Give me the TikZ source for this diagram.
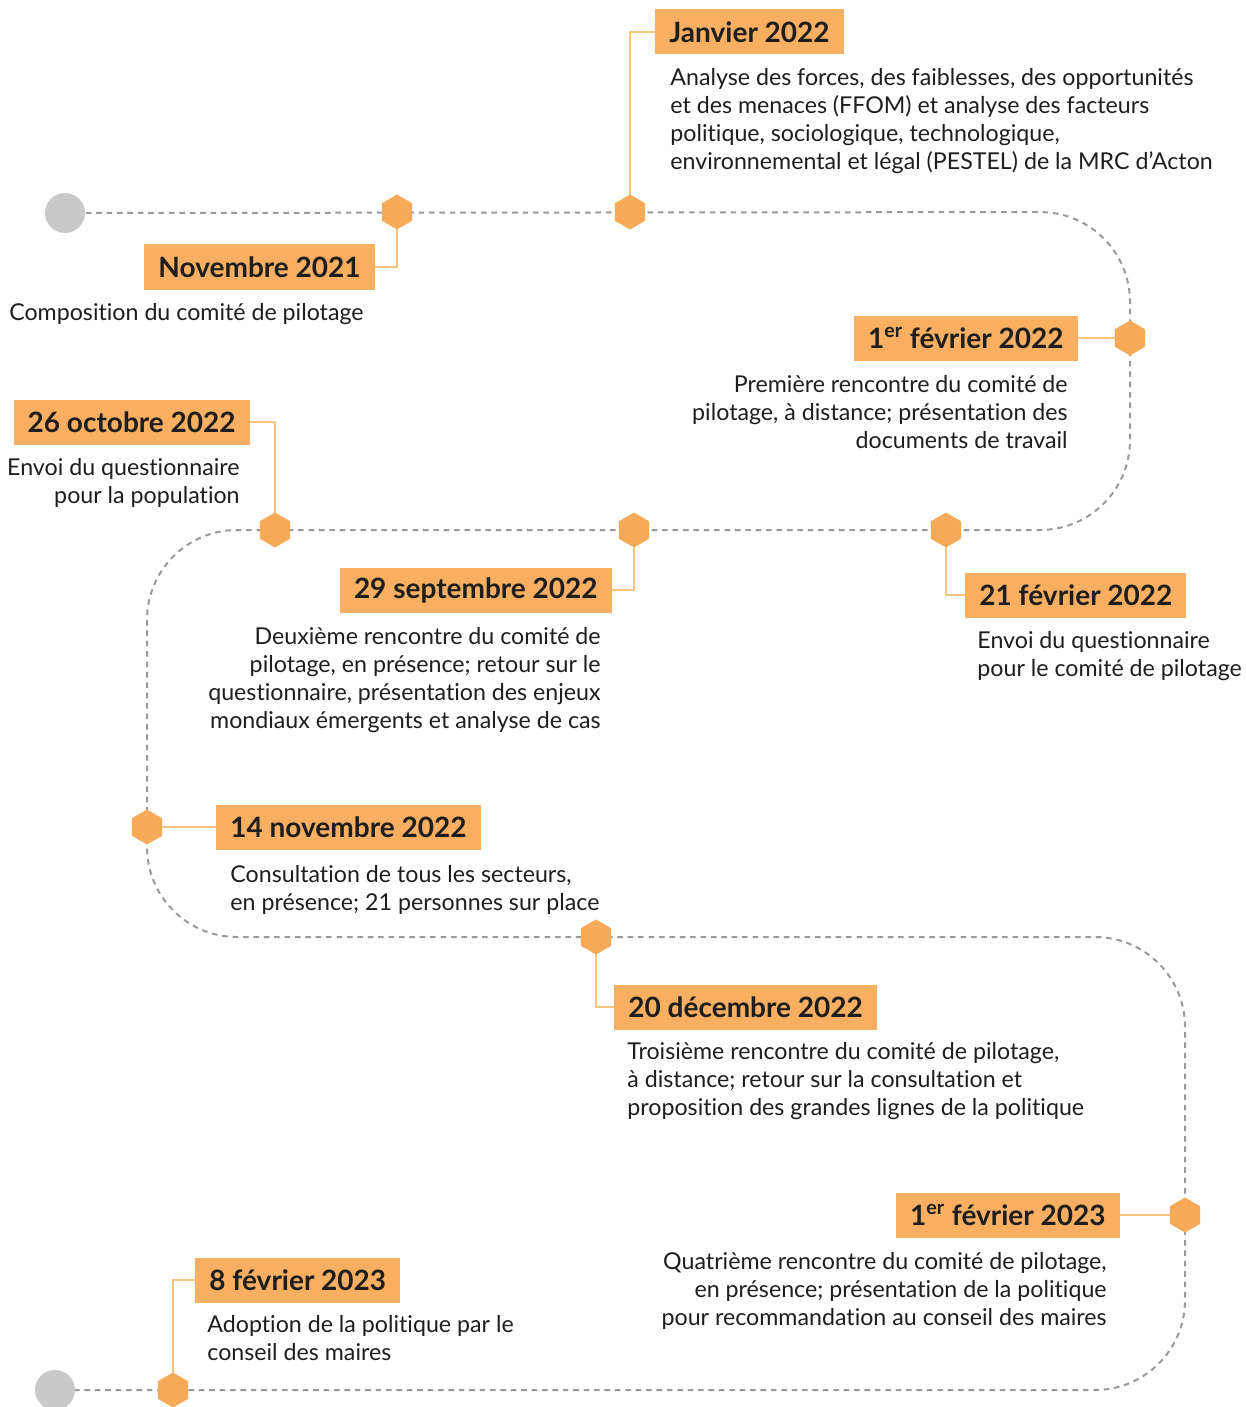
\documentclass[tikz,border=0pt]{standalone}
\usepackage{fontspec}
\setmainfont{Lato}[Ligatures=NoCommon]
\usetikzlibrary{shapes.geometric}
\definecolor{boxor}{HTML}{F9AF62}
\definecolor{hexor}{HTML}{F8AA58}
\definecolor{linkor}{HTML}{F9C47E}
\definecolor{pathgray}{HTML}{9A9A9A}
\definecolor{dotgray}{HTML}{C9C9C9}
\definecolor{ink}{HTML}{1E1E1E}
\begin{document}
\begin{tikzpicture}[x=0.5pt,y=-0.5pt,
  hex/.style={regular polygon, regular polygon sides=6, shape border rotate=30, minimum size=17.5pt, inner sep=0pt, fill=hexor, draw=none},
  enddot/.style={circle, minimum size=20pt, inner sep=0pt, fill=dotgray},
  gline/.style={draw=pathgray, line width=1pt, dash pattern=on 2.8pt off 2.4pt, rounded corners=45pt},
  link/.style={draw=linkor, line width=1.2pt},
  datebox/.style={fill=boxor, minimum height=22.5pt, inner xsep=7pt, inner ysep=0pt, text=ink, font=\bfseries\fontsize{14}{17}\selectfont},
  desc/.style={inner sep=0pt, text=ink, font=\fontsize{11.6}{14}\selectfont}]
\useasboundingbox[fill=white] (0,0) rectangle (1246,1407);
% path points
\coordinate (s) at (65,213);
\coordinate (h1) at (397,212);
\coordinate (h2) at (630,212);
\coordinate (k1) at (1130,212);
\coordinate (h3) at (1130,338);
\coordinate (k2) at (1130,530);
\coordinate (h4) at (946,530);
\coordinate (h5) at (634,530);
\coordinate (h6) at (275,530);
\coordinate (k3) at (147,530);
\coordinate (h7) at (147,827);
\coordinate (k4) at (147,937);
\coordinate (h8) at (596,937);
\coordinate (k5) at (1185,937);
\coordinate (h9) at (1185,1215);
\coordinate (k6) at (1185,1390);
\coordinate (h10) at (173,1390);
\coordinate (e) at (55,1390);
\draw[gline] (s) -- (k1) -- (k2) -- (k3) -- (k4) -- (k5) -- (k6) -- (e);
% date boxes
\node[datebox, anchor=east] (B1) at (375,267) {Novembre 2021};
\node[datebox, anchor=west] (B2) at (655,32) {Janvier 2022};
\node[datebox, anchor=east] (B3) at (1078,338) {1\textsuperscript{er} février 2022};
\node[datebox, anchor=west] (B4) at (965,595) {21 février 2022};
\node[datebox, anchor=east] (B5) at (612,590) {29 septembre 2022};
\node[datebox, anchor=east] (B6) at (250,422) {26 octobre 2022};
\node[datebox, anchor=west] (B7) at (216,827) {14 novembre 2022};
\node[datebox, anchor=west] (B8) at (614,1007) {20 décembre 2022};
\node[datebox, anchor=east] (B9) at (1120,1215) {1\textsuperscript{er} février 2023};
\node[datebox, anchor=west] (B10) at (195,1280) {8 février 2023};
% links
\draw[link] (h1) |- (B1.east);
\draw[link] (h2) |- (B2.west);
\draw[link] (h3) -- (B3.east);
\draw[link] (h4) |- (B4.west);
\draw[link] (h5) |- (B5.east);
\draw[link] (h6) |- (B6.east);
\draw[link] (h7) -- (B7.west);
\draw[link] (h8) |- (B8.west);
\draw[link] (h9) -- (B9.east);
\draw[link] (h10) |- (B10.west);
% markers
\node[enddot] (S) at (s) {};
\node[enddot] (E) at (e) {};
\foreach \i in {1,...,10} {\node[hex] (H\i) at (h\i) {};}
% descriptions
\node[desc, anchor=north east, align=right] (D1) at (364,303) {Composition du comité de pilotage};
\node[desc, anchor=north west, align=left] (D2) at (670,68) {Analyse des forces, des faiblesses, des opportunités\\et des menaces (FFOM) et analyse des facteurs\\politique, sociologique, technologique,\\environnemental et légal (PESTEL) de la MRC d’Acton};
\node[desc, anchor=north east, align=right] (D3) at (1068,375) {Première rencontre du comité de\\pilotage, à distance; présentation des\\documents de travail};
\node[desc, anchor=north west, align=left] (D4) at (977,631) {Envoi du questionnaire\\pour le comité de pilotage};
\node[desc, anchor=north east, align=right] (D5) at (601,627) {Deuxième rencontre du comité de\\pilotage, en présence; retour sur le\\questionnaire, présentation des enjeux\\mondiaux émergents et analyse de cas};
\node[desc, anchor=north east, align=right] (D6) at (240,458) {Envoi du questionnaire\\pour la population};
\node[desc, anchor=north west, align=left] (D7) at (230,865) {Consultation de tous les secteurs,\\en présence; 21 personnes sur place};
\node[desc, anchor=north west, align=left] (D8) at (627,1042) {Troisième rencontre du comité de pilotage,\\à distance; retour sur la consultation et\\proposition des grandes lignes de la politique};
\node[desc, anchor=north east, align=right] (D9) at (1107,1252) {Quatrième rencontre du comité de pilotage,\\en présence; présentation de la politique\\pour recommandation au conseil des maires};
\node[desc, anchor=north west, align=left] (D10) at (207,1315) {Adoption de la politique par le\\conseil des maires};
\end{tikzpicture}
\end{document}
